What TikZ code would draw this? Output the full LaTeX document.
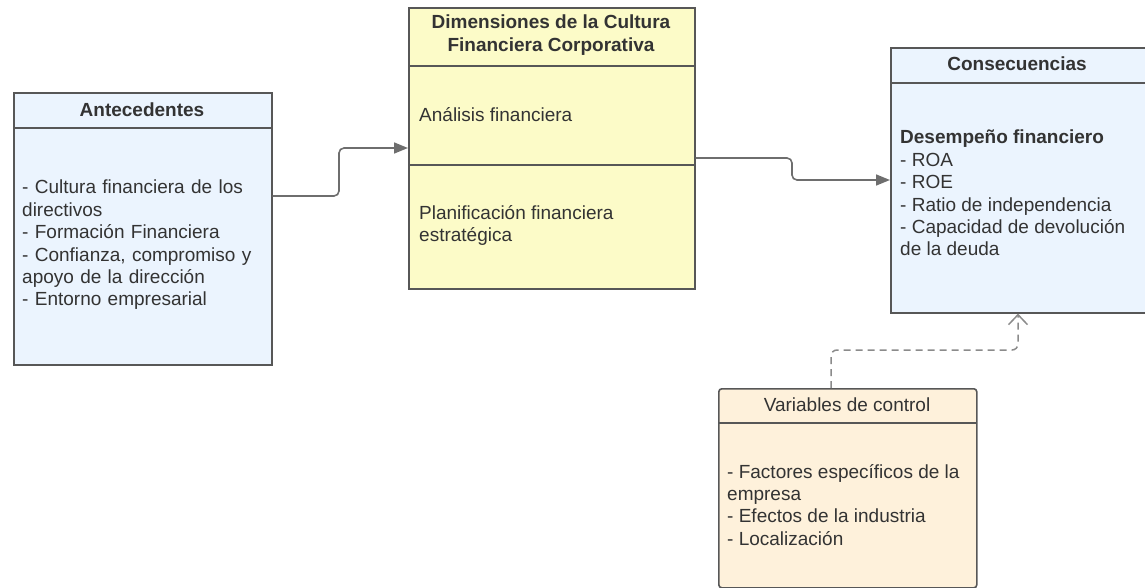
\documentclass[tikz,border=0pt]{standalone}
\usepackage{fontspec}
\setmainfont{Liberation Sans}
\usetikzlibrary{arrows.meta}
\definecolor{bluefill}{HTML}{EBF4FE}
\definecolor{yelfill}{HTML}{FCFBC8}
\definecolor{orafill}{HTML}{FEF1DB}
\definecolor{edge}{HTML}{575757}
\definecolor{conncol}{HTML}{6E6E6E}
\definecolor{txt}{HTML}{333333}
\tikzset{
  box/.style={draw=edge, line width=1.6pt, inner sep=0pt, anchor=north west},
  divider/.style={draw=edge, line width=1.6pt},
  hdr/.style={font=\fontsize{19}{22.4}\selectfont\bfseries, text=txt, inner sep=0pt, align=center},
  hdrplain/.style={font=\fontsize{19}{22.4}\selectfont, text=txt, inner sep=0pt},
  body/.style={font=\fontsize{19}{22.4}\selectfont, text=txt, inner sep=0pt, anchor=north west, align=left},
  conn/.style={draw=conncol, line width=1.6pt, rounded corners=5pt, -{Triangle[length=14pt,width=11pt]}},
  dconn/.style={draw=conncol!80, line width=1.5pt, rounded corners=6pt, dash pattern=on 7pt off 5pt, -{Straight Barb[length=10pt,width=19pt,line width=1.5pt]}}
}
\begin{document}
\begin{tikzpicture}[x=1pt,y=-1pt]
\useasboundingbox (0,0) rectangle (1145,588);
% Antecedentes
\node[box, fill=bluefill, minimum width=258pt, minimum height=272pt] (ant) at (13,92) {};
\draw[divider] (13,128) -- (271,128);
\node[hdr] (anth) at (142,110) {Antecedentes};
\node[body, text width=250pt] (antb) at (22,180) {- Cultura financiera de los\\directivos\\- Formación Financiera\\- Confianza, compromiso y\\apoyo de la dirección\\- Entorno empresarial};
% Dimensiones
\node[box, fill=yelfill, minimum width=286pt, minimum height=281pt] (dim) at (408,7) {};
\draw[divider] (408,66) -- (694,66);
\draw[divider] (408,165) -- (694,165);
\node[hdr] (dimh) at (551,35) {Dimensiones de la Cultura\\Financiera Corporativa};
\node[body] (dim1) at (419,107) {Análisis financiera};
\node[body] (dim2) at (419,205) {Planificación financiera\\estratégica};
% Consecuencias
\node[box, fill=bluefill, minimum width=258pt, minimum height=265pt] (con) at (890,47) {};
\draw[divider] (890,83) -- (1148,83);
\node[hdr] (conh) at (1017,64) {Consecuencias};
\node[body] (conb) at (900,130) {\textbf{Desempeño financiero}\\- ROA\\- ROE\\- Ratio de independencia\\- Capacidad de devolución\\de la deuda};
% Variables de control
\node[box, fill=orafill, rounded corners=3pt, minimum width=258pt, minimum height=199pt] (var) at (718,388) {};
\draw[divider] (718,423) -- (976,423);
\node[hdrplain] (varh) at (847,405) {Variables de control};
\node[body] (varb) at (727,464) {- Factores específicos de la\\empresa\\- Efectos de la industria\\- Localización};
% connectors
\draw[conn] (ant.east |- 0,196) -- (339,196) -- (339,148) -- (dim.west |- 0,148);
\draw[conn] (dim.east |- 0,158) -- (792,158) -- (792,180) -- (con.west |- 0,180);
\draw[dconn] (var.north -| 831,0) -- (831,350) -- (1018,350) -- (con.south -| 1018,0);
\end{tikzpicture}
\end{document}
